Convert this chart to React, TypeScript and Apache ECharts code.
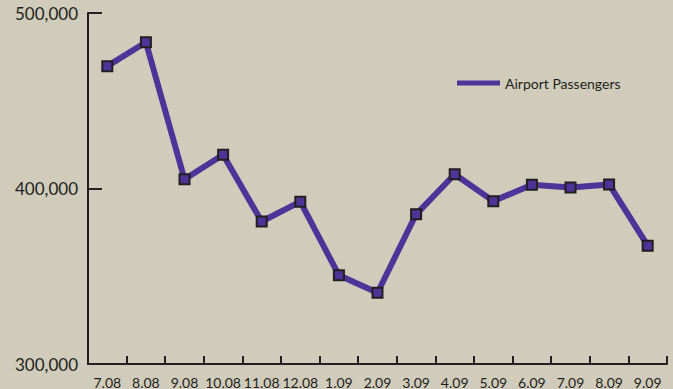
import React, { useEffect, useRef } from "react";
import * as echarts from "echarts";

const months = [
  "7.08", "8.08", "9.08", "10.08", "11.08", "12.08", "1.09", "2.09",
  "3.09", "4.09", "5.09", "6.09", "7.09", "8.09", "9.09",
];

const passengers = [
  469700, 483300, 405300, 419200, 381200, 392500, 350600, 340600,
  385300, 408100, 392800, 402100, 400600, 402300, 367400,
];

const yTicks = [300000, 400000, 500000];

const seriesName = "Airport Passengers";

const ink = "#231f20";
const purple = "#4e3398";
const font = "Lato, 'Open Sans', sans-serif";

export default function App() {
  const ref = useRef<HTMLDivElement>(null);

  useEffect(() => {
    if (!ref.current) return;
    const chart = echarts.init(ref.current, undefined, { renderer: "svg" });
    chart.setOption({
      animation: false,
      backgroundColor: "#d0cbba",
      grid: { left: 88, right: 6, top: 13, bottom: 22 },
      legend: {
        left: 452,
        top: 71,
        data: [seriesName],
        icon: "rect",
        itemWidth: 43,
        itemHeight: 5,
        itemGap: 10,
        itemStyle: { color: purple, borderWidth: 0 },
        textStyle: { fontFamily: font, fontSize: 14, color: ink },
      },
      xAxis: {
        type: "category",
        data: months,
        boundaryGap: true,
        axisLine: { lineStyle: { color: ink, width: 2 } },
        axisTick: {
          show: true,
          inside: true,
          length: 8,
          interval: 0,
          lineStyle: { color: ink, width: 2 },
        },
        axisLabel: {
          fontFamily: font,
          fontSize: 14,
          color: ink,
          margin: 11,
          interval: 0,
        },
        splitLine: { show: false },
      },
      yAxis: {
        type: "value",
        min: yTicks[0],
        max: yTicks[yTicks.length - 1],
        interval: yTicks[1] - yTicks[0],
        axisLine: { show: true, lineStyle: { color: ink, width: 2 } },
        axisTick: {
          show: true,
          inside: true,
          length: 14,
          lineStyle: { color: ink, width: 2 },
        },
        axisLabel: {
          fontFamily: font,
          fontSize: 17,
          color: ink,
          margin: 10,
          formatter: (v: number) => v.toLocaleString("en-US"),
        },
        splitLine: { show: false },
      },
      series: [
        {
          name: seriesName,
          type: "line",
          data: passengers,
          symbol: "rect",
          symbolSize: 10,
          showAllSymbol: true,
          lineStyle: { color: purple, width: 6 },
          itemStyle: { color: purple, borderColor: ink, borderWidth: 2 },
        },
      ],
    });
    return () => chart.dispose();
  }, []);

  return (
    <div
      ref={ref}
      style={{ width: 673, height: 389, position: "absolute", left: 0, top: 0 }}
    />
  );
}
